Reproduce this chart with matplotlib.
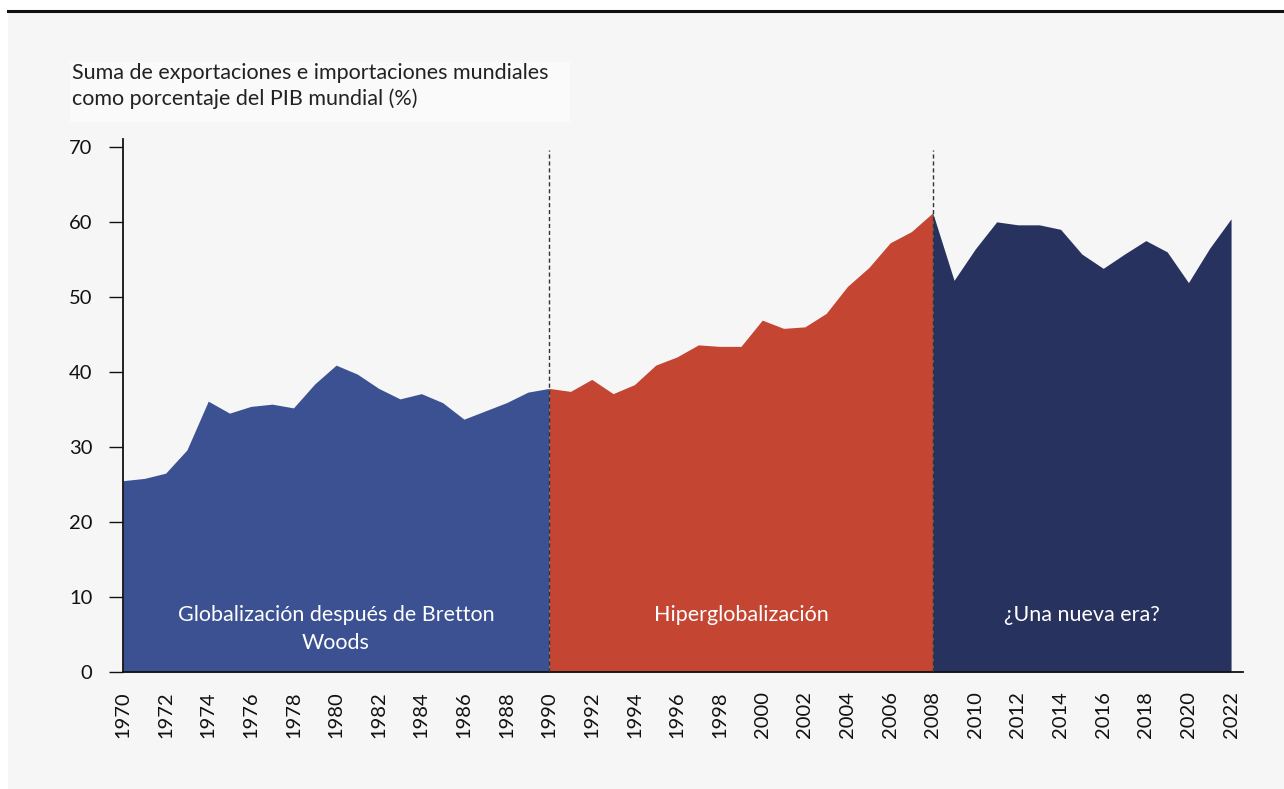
import matplotlib.pyplot as plt
from matplotlib.patches import Rectangle

plt.rcParams['font.family'] = ['Lato', 'DejaVu Sans']

# datos: comercio mundial (% del PIB)
years = list(range(1970, 2023))
trade = [25.5, 25.8, 26.5, 29.6, 36.1, 34.5, 35.4, 35.7, 35.2, 38.4,
         40.9, 39.7, 37.8, 36.4, 37.1, 35.9, 33.7, 34.8, 35.9, 37.3,
         37.8, 37.4, 39.0, 37.1, 38.3, 40.9, 42.0, 43.6, 43.4, 43.4,
         46.9, 45.8, 46.0, 47.8, 51.4, 53.9, 57.2, 58.7, 61.2, 52.2,
         56.4, 60.0, 59.6, 59.6, 59.0, 55.7, 53.8, 55.7, 57.5, 56.0,
         51.9, 56.5, 60.4]

periods = [(1970, 1990), (1990, 2008), (2008, 2022)]
period_names = ["Globalización después de Bretton\nWoods",
                "Hiperglobalización",
                "¿Una nueva era?"]
period_colors = ["#3b5192", "#c44532", "#28325e"]
breaks = [1990, 2008]

title = "Suma de exportaciones e importaciones mundiales\ncomo porcentaje del PIB mundial (%)"

fig = plt.figure(figsize=(12.84, 7.89), dpi=100, facecolor="white")
W, H = 1284, 789

# fondo gris y línea superior
fig.patches.append(Rectangle((8 / W, 0), 1, (H - 12) / H, transform=fig.transFigure,
                             facecolor="#f6f6f6", edgecolor="none", zorder=-10))
fig.patches.append(Rectangle((70 / W, (H - 122) / H), 500 / W, 60 / H, transform=fig.transFigure,
                             facecolor="#fafafa", edgecolor="none", zorder=-9))
fig.add_artist(plt.Line2D([8 / W, 1], [(H - 11) / H, (H - 11) / H], color="#111111",
                          lw=2.2, transform=fig.transFigure))
fig.text(72 / W, (H - 63) / H, title, fontsize=15.5, color="#222222",
         va="top", ha="left", linespacing=1.3)

ax = fig.add_axes([123 / W, (H - 672) / H, 1120 / W, 532.7 / H])
ax.set_facecolor("none")

for (a, b), c in zip(periods, period_colors):
    xs = [y for y in years if a <= y <= b]
    vs = [trade[years.index(y)] for y in xs]
    ax.fill_between(xs, 0, vs, color=c, lw=0, zorder=2)

for x in breaks:
    ax.plot([x, x], [0, 69.6], color="#333333", lw=1, ls=(0, (3, 2)), zorder=3)

for (a, b), name in zip(periods, period_names):
    ax.text((a + b) / 2, 8.9, name, color="white", fontsize=15.5, ha="center",
            va="top", linespacing=1.5, zorder=4)

ax.set_xlim(1970, 2022.56)
ax.set_ylim(0, 71)
ax.set_xticks(years[::2])
ax.set_xticklabels([str(y) for y in years[::2]], rotation=90)
ax.set_yticks(range(0, 71, 10))
ax.tick_params(axis="x", length=0, pad=14, labelsize=14.5, colors="#111111")
ax.tick_params(axis="y", length=10, width=1, pad=12, labelsize=14.5, colors="#111111")
for s in ["top", "right"]:
    ax.spines[s].set_visible(False)
for s in ["left", "bottom"]:
    ax.spines[s].set_linewidth(1.3)
    ax.spines[s].set_color("#111111")

fig.savefig("out.png", dpi=100, facecolor=fig.get_facecolor())
